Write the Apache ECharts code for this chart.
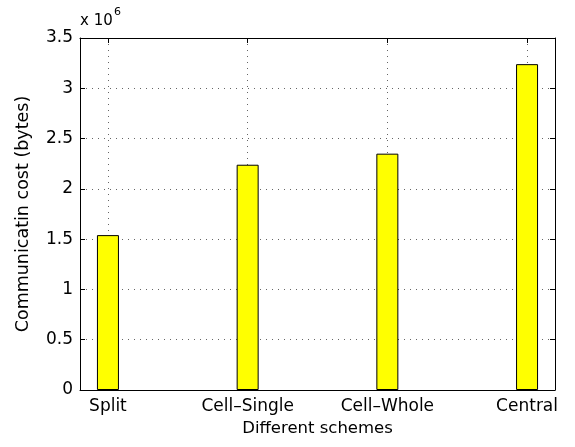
<!DOCTYPE html>
<html>
<head>
<meta charset="utf-8">
<script src="https://cdn.jsdelivr.net/npm/echarts@6/dist/echarts.min.js"></script>
<style>html,body{margin:0;padding:0;background:#fff}#c{width:575px;height:447px}</style>
</head>
<body>
<div id="c"></div>
<script>
const categories = ['Split', 'Cell\u2013Single', 'Cell\u2013Whole', 'Central'];
const positions = [1, 2, 3, 4];
const costs = [1.54, 2.24, 2.35, 3.24]; // x 10^6 bytes
const yTicks = [0, 0.5, 1, 1.5, 2, 2.5, 3, 3.5];

const FONT = '"DejaVu Sans", "Liberation Sans", Arial, sans-serif';
const chart = echarts.init(document.getElementById('c'));
const dotted = { show: true, lineStyle: { color: '#666', type: [1, 5], width: 1 } };
const axLine = { show: true, onZero: false, lineStyle: { color: '#000', width: 1 } };
const tick = { show: true, inside: true, length: 5, lineStyle: { color: '#000' } };

chart.setOption({
  animation: false,
  backgroundColor: '#fff',
  grid: { left: 80, right: 20, top: 38, bottom: 57 },
  xAxis: [
    {
      type: 'value', min: 0.8, max: 4.2, position: 'bottom',
      axisLine: axLine,
      axisTick: Object.assign({}, tick, { customValues: positions }),
      axisLabel: {
        customValues: positions, margin: 8, color: '#000', fontSize: 17, fontFamily: FONT,
        formatter: v => categories[positions.indexOf(Math.round(v))] || ''
      },
      splitLine: dotted,
      name: 'Different schemes', nameLocation: 'middle', nameGap: 28,
      nameTextStyle: { color: '#000', fontSize: 16.5, fontFamily: FONT }
    },
    {
      type: 'value', min: 0.8, max: 4.2, position: 'top',
      axisLine: axLine,
      axisTick: Object.assign({}, tick, { customValues: positions }),
      axisLabel: { show: false }, splitLine: { show: false }
    }
  ],
  yAxis: [
    {
      type: 'value', min: 0, max: 3.5, interval: 0.5, position: 'left',
      axisLine: axLine, axisTick: tick,
      axisLabel: { margin: 7, color: '#000', fontSize: 17, fontFamily: FONT, formatter: v => String(v) },
      splitLine: dotted,
      name: 'Communicatin cost (bytes)', nameLocation: 'middle', nameGap: 48,
      nameTextStyle: { color: '#000', fontSize: 17.5, fontFamily: FONT }
    },
    {
      type: 'value', min: 0, max: 3.5, interval: 0.5, position: 'right',
      axisLine: axLine, axisTick: tick,
      axisLabel: { show: false }, splitLine: { show: false }
    }
  ],
  graphic: [
    { type: 'text', left: 80, top: 14, style: { text: 'x 10', fontSize: 15, fontFamily: FONT, fill: '#000' } },
    { type: 'text', left: 114, top: 7, style: { text: '6', fontSize: 11, fontFamily: FONT, fill: '#000' } }
  ],
  series: [{
    type: 'bar', xAxisIndex: 0, yAxisIndex: 0,
    data: positions.map((p, i) => [p, costs[i]]),
    barWidth: 22,
    itemStyle: { color: '#ffff00', borderColor: '#000', borderWidth: 1 }
  }]
});
</script>
</body>
</html>
